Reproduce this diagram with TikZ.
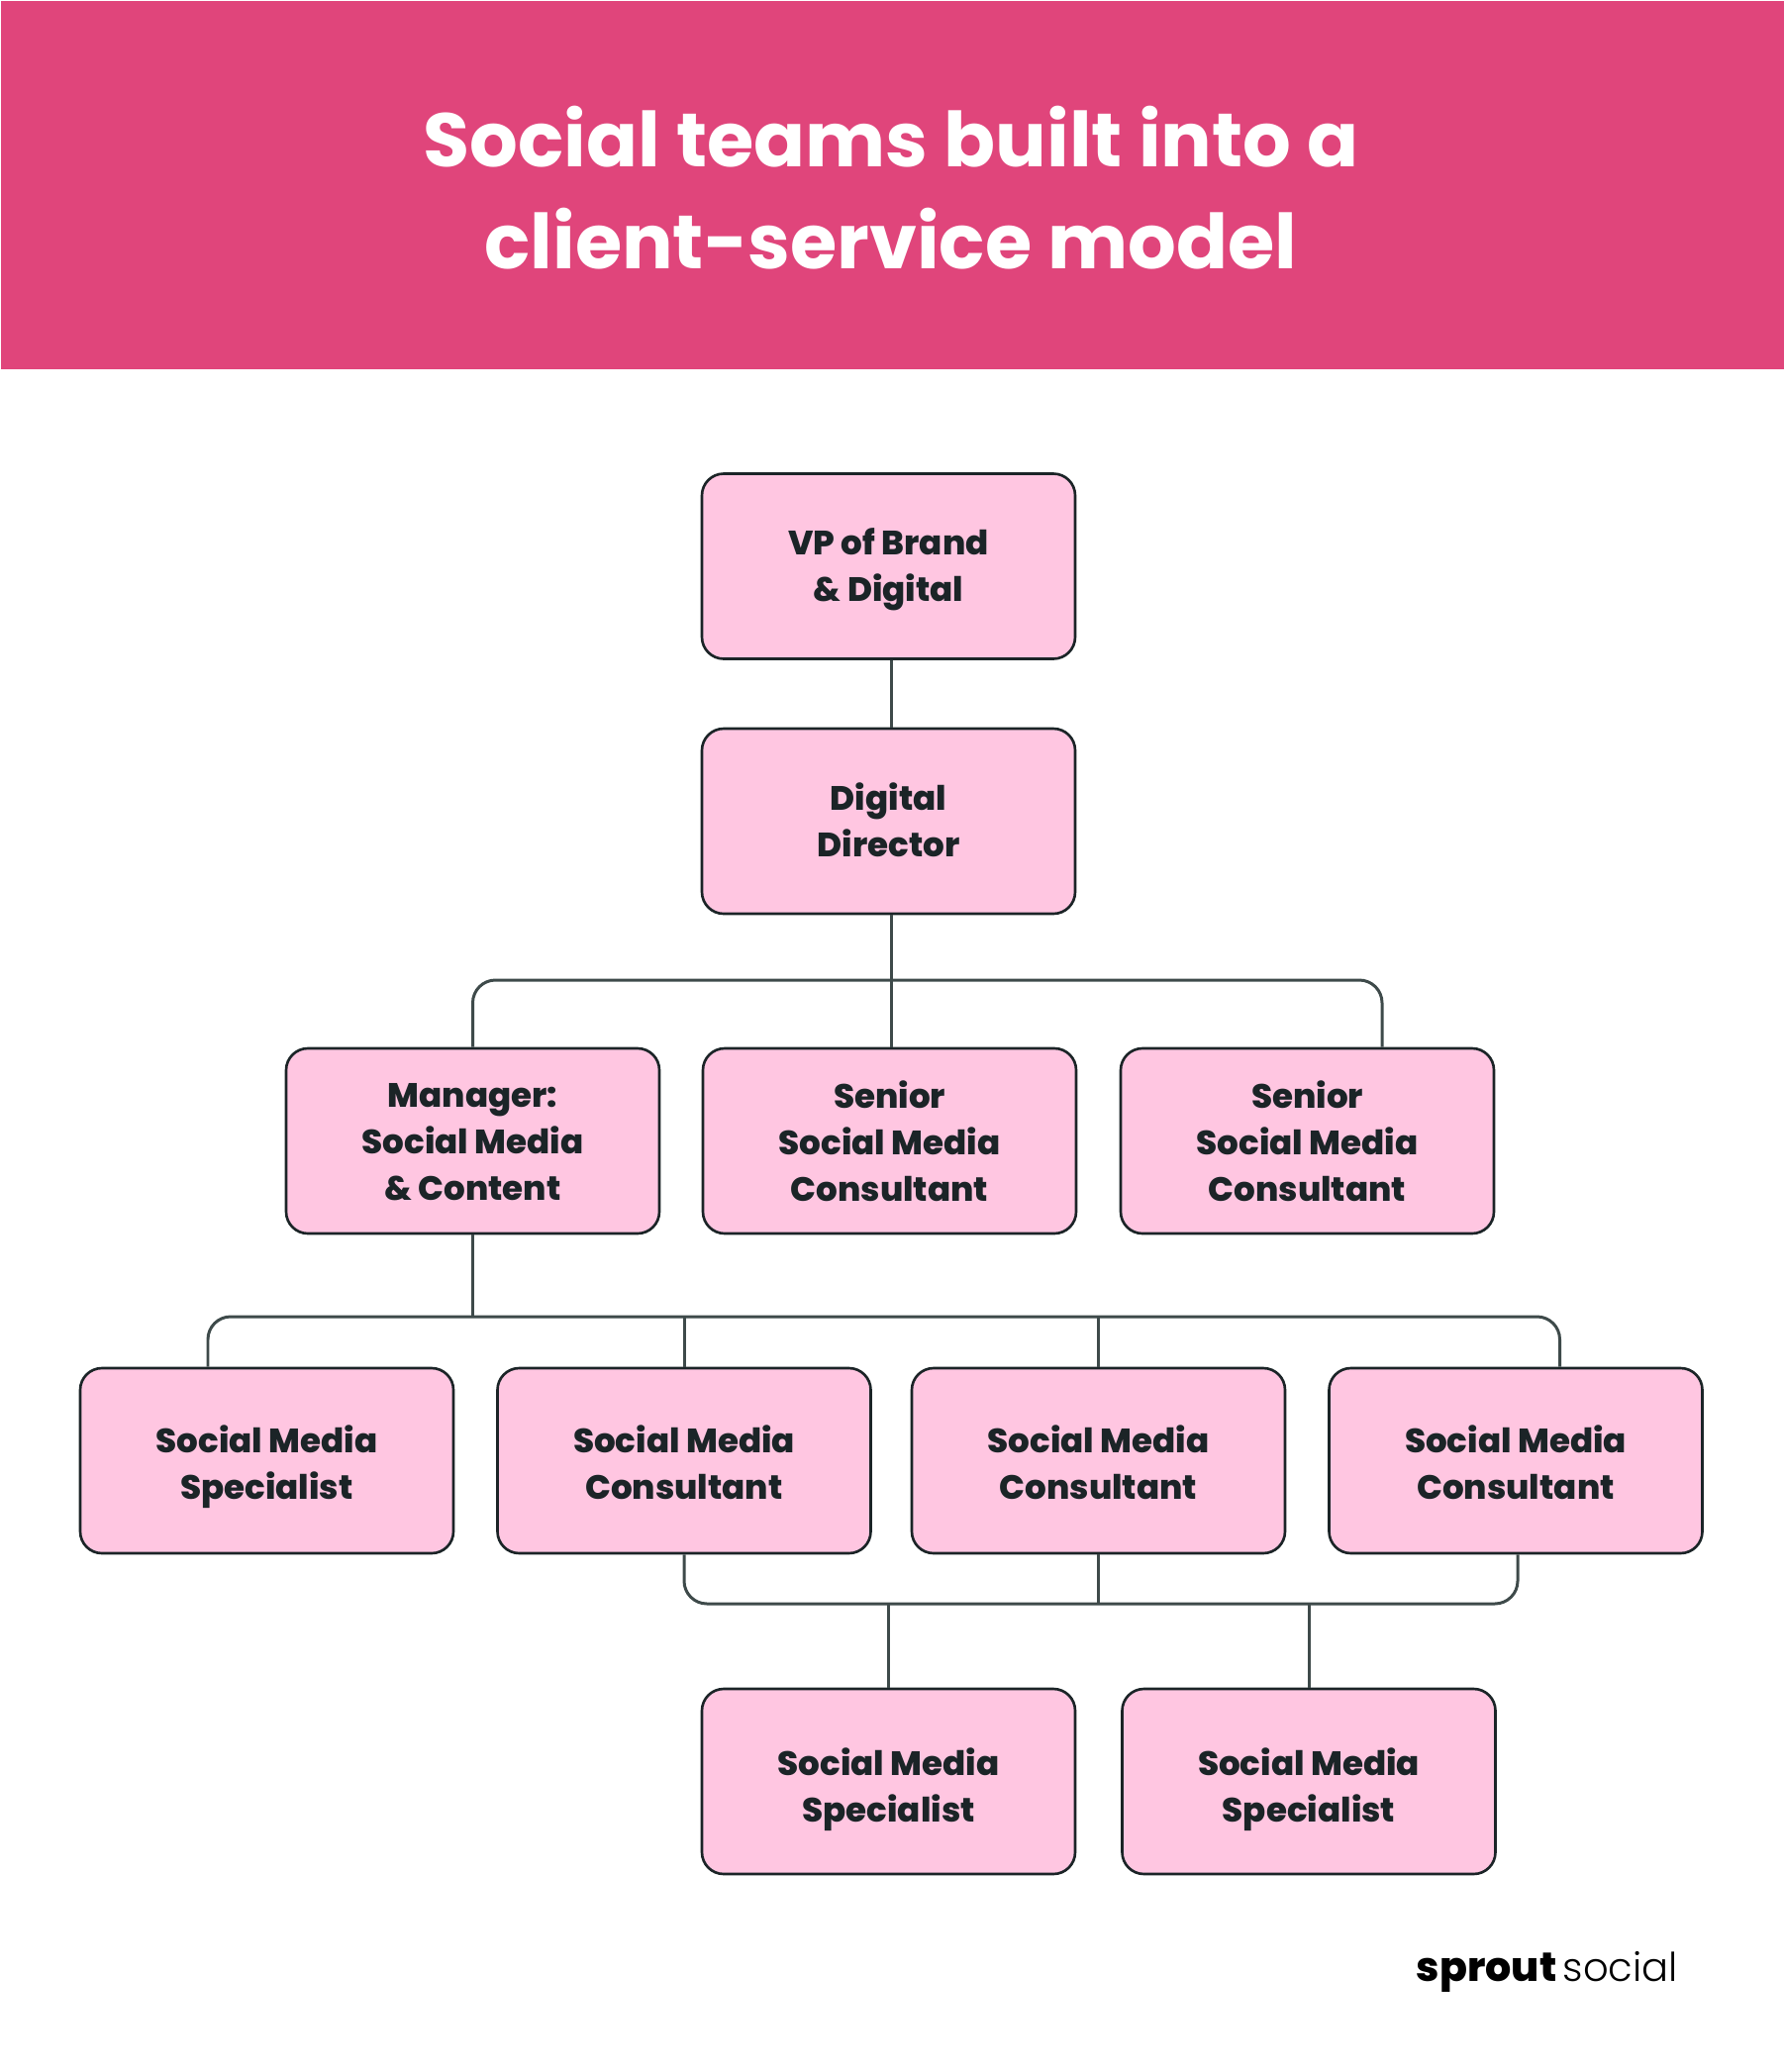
\documentclass[tikz,border=0pt]{standalone}
\usepackage[rgb]{xcolor}
\usepackage{fontspec}
\setmainfont{Lato}
\newfontfamily\titlefont{Poppins Bold}
\newfontfamily\boxfont{Poppins ExtraBold}
\newfontfamily\logobold{Poppins ExtraBold}
\newfontfamily\logolight{Poppins Light}
\definecolor{headerpink}{HTML}{E0457B}
\definecolor{boxpink}{HTML}{FFC6E1}
\definecolor{boxedge}{HTML}{1B2427}
\definecolor{linkgrey}{HTML}{3E4A4A}
\tikzset{
	role/.style={draw=boxedge, fill=boxpink, line width=0.75pt, rounded corners=0.22cm,
		minimum width=3.77cm, minimum height=1.87cm, inner sep=0pt, align=center,
		text=boxedge, font=\boxfont\fontsize{9.7}{13.3}\selectfont},
	sink/.style={text height=#1, text depth=0pt},
	link/.style={draw=linkgrey, line width=0.85pt, rounded corners=0.23cm},
}

\begin{document}
\begin{tikzpicture}

% Page and header band
\path [use as bounding box] (0,0) rectangle (18.01,-20.93);
\fill [white] (0,0) rectangle (18.01,-20.93);
\node [fill=headerpink, minimum width=18.01cm, minimum height=3.72cm, inner sep=0pt, anchor=north west] (band) at (0,0) {};
\node [text=white, align=center, font=\titlefont\fontsize{21.8}{29.3}\selectfont] (title) at (9.00,-1.90) {Social teams built into a\\client-service model};

% Positions of the horizontal bars
\coordinate (barthree) at (9.00,-9.90);
\coordinate (barfour) at (4.775,-13.30);
\coordinate (barfive) at (11.10,-16.20);

% The boxes, row by row
\node [role, sink=0.70cm] (vp) at (8.975,-5.72) {VP of Brand\\\& Digital};
\node [role, sink=0.71cm] (dir) at (8.975,-8.295) {Digital\\Director};
\node [role, sink=1.19cm] (mgr) at (4.775,-11.525) {Manager:\\Social Media\\\& Content};
\node [role, sink=1.21cm] (senior1) at (8.985,-11.525) {Senior\\Social Media\\Consultant};
\node [role, sink=1.21cm] (senior2) at (13.205,-11.525) {Senior\\Social Media\\Consultant};
\node [role, sink=0.77cm] (spec1) at (2.695,-14.755) {Social Media\\Specialist};
\node [role, sink=0.77cm] (cons1) at (6.91,-14.755) {Social Media\\Consultant};
\node [role, sink=0.77cm] (cons2) at (11.095,-14.755) {Social Media\\Consultant};
\node [role, sink=0.77cm] (cons3) at (15.31,-14.755) {Social Media\\Consultant};
\node [role, sink=0.81cm] (spec2) at (8.975,-17.995) {Social Media\\Specialist};
\node [role, sink=0.81cm] (spec3) at (13.22,-17.995) {Social Media\\Specialist};

% VP to director to row three
\draw [link] ([xshift=0.025cm]vp.south) -- ([xshift=0.025cm]dir.north);
\draw [link] ([xshift=0.025cm]dir.south) -- ([xshift=0.015cm]senior1.north);
\draw [link] (mgr.north) |- (barthree) -| ([xshift=0.755cm]senior2.north);

% Manager to row four
\draw [link] (mgr.south) -- (barfour);
\draw [link] ([xshift=-0.595cm]spec1.north) |- (barfour) -| ([xshift=0.445cm]cons3.north);
\draw [link] (cons1.north) -- (cons1.north |- barfour);
\draw [link] (cons2.north) -- (cons2.north |- barfour);

% Row four to row five
\draw [link] (cons1.south) |- (barfive) -| ([xshift=0.02cm]cons3.south);
\draw [link] (cons2.south) -- (cons2.south |- barfive);
\draw [link] (spec2.north) -- (spec2.north |- barfive);
\draw [link] (spec3.north) -- (spec3.north |- barfive);

% Logo
\node [anchor=base east, inner sep=0pt, text=black, font=\logobold\fontsize{11.7}{14}\selectfont] (logoa) at (15.73,-20.01) {sprout};
\node [anchor=base west, inner sep=0pt, text=black, font=\logolight\fontsize{11.4}{14}\selectfont] (logob) at (15.78,-20.01) {social};

\end{tikzpicture}
\end{document}
